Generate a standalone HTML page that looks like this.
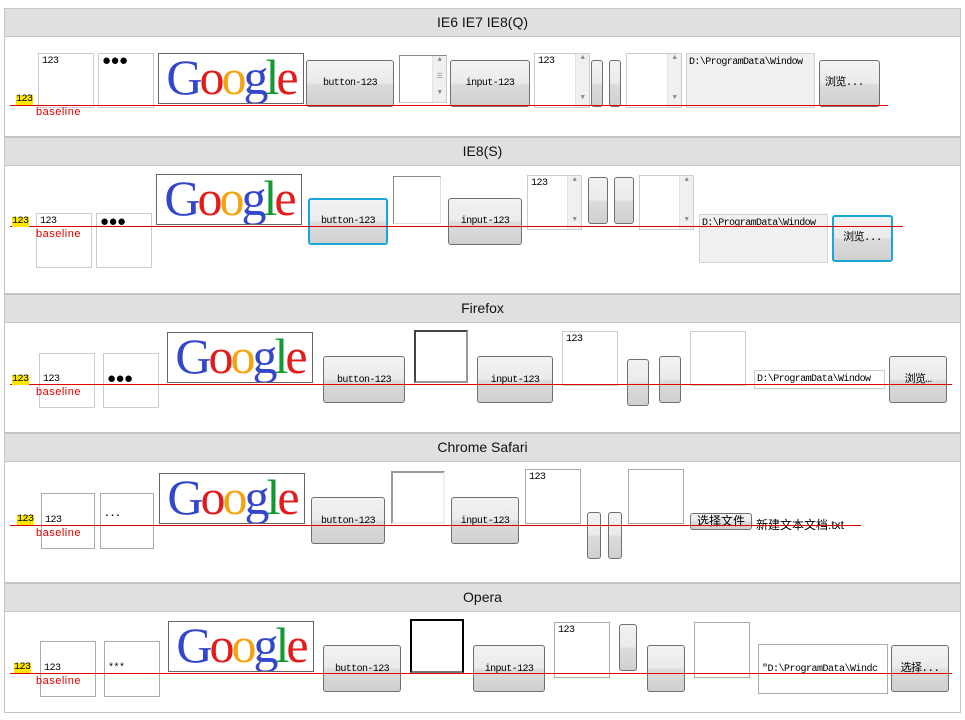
<!DOCTYPE html>
<html><head><meta charset="utf-8"><style>
*{box-sizing:border-box;margin:0;padding:0}
body{width:965px;height:720px;background:#fff;position:relative;overflow:hidden;font-family:"Liberation Sans","Noto Sans CJK SC",sans-serif}
div{position:absolute}
.hd{left:4px;width:957px;height:29px;background:#e0e0e0;border:1px solid #c4c4c4;font-size:14px;line-height:27px;text-align:center;color:#111}
.sec{left:4px;width:957px;border:1px solid #c4c4c4;border-top:none}
.ln{height:1px;background:#e00000;z-index:4}
.y{background:#ffe600;font-size:10px;line-height:10px;height:10px;font-family:"Liberation Mono",monospace;color:#000;z-index:5;letter-spacing:-0.5px}
.bl{font-size:11px;color:#e00000;font-family:"Liberation Sans",sans-serif;letter-spacing:0.5px;z-index:5}
.bx{border:1px solid #c8ccd4;background:#fff;font-size:10px;font-family:"Liberation Mono",monospace;padding:2px 3px;color:#000;letter-spacing:-0.5px}
.bt{border:1px solid #707070;border-radius:3px;background:linear-gradient(#f2f2f2 0,#ebebeb 48%,#dcdcdc 52%,#d0d0d0 100%);font-size:10px;font-family:"Liberation Mono",monospace;text-align:center;color:#000;white-space:nowrap;overflow:hidden;letter-spacing:-0.6px}
.bb{border:2px solid #19a6d8}
.g{border:1px solid #666;background:#fff;font-family:"Liberation Serif",serif;font-size:50px;line-height:46px;text-align:center;overflow:hidden;letter-spacing:-3px;white-space:nowrap}
.g b{font-weight:normal}
.sb{right:0;top:0;bottom:0;width:14px;background:#f0f0f0;border-left:1px solid #e4e4e4;font-size:7px;color:#888;text-align:center}
.ft{background:#f0f0f0;border:1px solid #cfd4da;font-size:10px;font-family:"Liberation Mono",monospace;padding:3px 2px;white-space:nowrap;overflow:hidden;letter-spacing:-0.6px}
</style></head><body>

<!-- Section 1 -->
<div class="hd" style="top:8px">IE6 IE7 IE8(Q)</div>
<div class="sec" style="top:37px;height:100px"></div>
<div class="y" style="left:16px;top:95px">123</div>
<div class="bl" style="left:36px;top:106px">baseline</div>
<div class="bx" style="left:38px;top:53px;width:56px;height:55px">123</div>
<div class="bx" style="left:98px;top:53px;width:56px;height:55px;font-size:15px;line-height:14px;padding-top:1px">●●●</div>
<div class="g" style="left:158px;top:53px;width:146px;height:51px"><b style="color:#3446cc">G</b><b style="color:#e31b1b">o</b><b style="color:#f5a40f">o</b><b style="color:#3446cc">g</b><b style="color:#129a32">l</b><b style="color:#e31b1b">e</b></div>
<div class="bt" style="left:306px;top:60px;width:88px;height:47px;line-height:45px">button-123</div>
<div class="bx" style="left:399px;top:55px;width:48px;height:48px;border-color:#888 #ccc #ccc #888"><div class="sb">▲<br><br>☰<br><br>▼</div></div>
<div class="bt" style="left:450px;top:60px;width:80px;height:47px;line-height:45px">input-123</div>
<div class="bx" style="left:534px;top:53px;width:56px;height:55px">123<div class="sb">▲<br><br><br><br><br>▼</div></div>
<div class="bt" style="left:591px;top:60px;width:12px;height:47px"></div>
<div class="bt" style="left:609px;top:60px;width:12px;height:47px"></div>
<div class="bx" style="left:626px;top:53px;width:56px;height:55px"><div class="sb">▲<br><br><br><br><br>▼</div></div>
<div class="ft" style="left:686px;top:53px;width:129px;height:55px">D:\ProgramData\Window</div>
<div class="bt" style="left:819px;top:60px;width:61px;height:47px;line-height:45px;text-align:left;padding-left:5px;font-family:'Liberation Mono','Noto Sans CJK SC',monospace;font-size:11px">浏览...</div>
<div class="ln" style="left:10px;top:105px;width:878px"></div>

<!-- Section 2 -->
<div class="hd" style="top:137px">IE8(S)</div>
<div class="sec" style="top:166px;height:128px"></div>
<div class="y" style="left:12px;top:217px">123</div>
<div class="bl" style="left:36px;top:228px">baseline</div>
<div class="bx" style="left:36px;top:213px;width:56px;height:55px">123</div>
<div class="bx" style="left:96px;top:213px;width:56px;height:55px;font-size:15px;line-height:14px;padding-top:2px">●●●</div>
<div class="g" style="left:156px;top:174px;width:146px;height:51px"><b style="color:#3446cc">G</b><b style="color:#e31b1b">o</b><b style="color:#f5a40f">o</b><b style="color:#3446cc">g</b><b style="color:#129a32">l</b><b style="color:#e31b1b">e</b></div>
<div class="bt bb" style="left:308px;top:198px;width:80px;height:47px;line-height:43px">button-123</div>
<div class="bx" style="left:393px;top:176px;width:48px;height:48px;border-color:#888 #ddd #ddd #888"></div>
<div class="bt" style="left:448px;top:198px;width:74px;height:47px;line-height:45px">input-123</div>
<div class="bx" style="left:527px;top:175px;width:55px;height:55px">123<div class="sb">▲<br><br><br><br><br>▼</div></div>
<div class="bt" style="left:588px;top:177px;width:20px;height:47px"></div>
<div class="bt" style="left:614px;top:177px;width:20px;height:47px"></div>
<div class="bx" style="left:639px;top:175px;width:55px;height:55px"><div class="sb">▲<br><br><br><br><br>▼</div></div>
<div class="ft" style="left:699px;top:214px;width:129px;height:49px">D:\ProgramData\Window</div>
<div class="bt bb" style="left:832px;top:215px;width:61px;height:47px;line-height:43px;font-family:'Liberation Mono','Noto Sans CJK SC',monospace;font-size:11px">浏览...</div>
<div class="ln" style="left:10px;top:226px;width:893px"></div>

<!-- Section 3 -->
<div class="hd" style="top:294px">Firefox</div>
<div class="sec" style="top:323px;height:110px"></div>
<div class="y" style="left:12px;top:375px">123</div>
<div class="bl" style="left:36px;top:386px">baseline</div>
<div class="bx" style="left:39px;top:353px;width:56px;height:55px;padding-top:20px">123</div>
<div class="bx" style="left:103px;top:353px;width:56px;height:55px;font-size:15px;line-height:14px;padding-top:19px">●●●</div>
<div class="g" style="left:167px;top:332px;width:146px;height:51px"><b style="color:#3446cc">G</b><b style="color:#e31b1b">o</b><b style="color:#f5a40f">o</b><b style="color:#3446cc">g</b><b style="color:#129a32">l</b><b style="color:#e31b1b">e</b></div>
<div class="bt" style="left:323px;top:356px;width:82px;height:47px;line-height:47px">button-123</div>
<div class="bx" style="left:414px;top:330px;width:54px;height:53px;border:2px solid;border-color:#444 #999 #999 #444"></div>
<div class="bt" style="left:477px;top:356px;width:76px;height:47px;line-height:47px">input-123</div>
<div class="bx" style="left:562px;top:331px;width:56px;height:55px">123</div>
<div class="bt" style="left:627px;top:359px;width:22px;height:47px"></div>
<div class="bt" style="left:659px;top:356px;width:22px;height:47px"></div>
<div class="bx" style="left:690px;top:331px;width:56px;height:55px"></div>
<div class="bx" style="left:754px;top:370px;width:131px;height:19px;padding:3px 2px;white-space:nowrap;overflow:hidden;letter-spacing:-0.6px">D:\ProgramData\Window</div>
<div class="bt" style="left:889px;top:356px;width:58px;height:47px;line-height:47px;font-family:'Liberation Mono','Noto Sans CJK SC',monospace;font-size:11px">浏览…</div>
<div class="ln" style="left:10px;top:384px;width:942px"></div>

<!-- Section 4 -->
<div class="hd" style="top:433px">Chrome Safari</div>
<div class="sec" style="top:462px;height:121px"></div>
<div class="y" style="left:17px;top:515px">123</div>
<div class="bl" style="left:36px;top:527px">baseline</div>
<div class="bx" style="left:41px;top:493px;width:54px;height:56px;border-color:#aaa;padding-top:21px">123</div>
<div class="bx" style="left:100px;top:493px;width:54px;height:56px;border-color:#aaa;padding-top:17px;font-weight:bold">···</div>
<div class="g" style="left:159px;top:473px;width:146px;height:51px"><b style="color:#3446cc">G</b><b style="color:#e31b1b">o</b><b style="color:#f5a40f">o</b><b style="color:#3446cc">g</b><b style="color:#129a32">l</b><b style="color:#e31b1b">e</b></div>
<div class="bt" style="left:311px;top:497px;width:74px;height:47px;line-height:47px">button-123</div>
<div class="bx" style="left:391px;top:471px;width:54px;height:53px;border:2px solid;border-color:#999 #eee #eee #999"></div>
<div class="bt" style="left:451px;top:497px;width:68px;height:47px;line-height:47px">input-123</div>
<div class="bx" style="left:525px;top:469px;width:56px;height:55px;border-color:#aaa">123</div>
<div class="bt" style="left:587px;top:512px;width:14px;height:47px"></div>
<div class="bt" style="left:608px;top:512px;width:14px;height:47px"></div>
<div class="bx" style="left:628px;top:469px;width:56px;height:55px;border-color:#aaa"></div>
<div class="bt" style="left:690px;top:513px;width:62px;height:17px;line-height:14px;font-size:12px;letter-spacing:0;font-family:'Liberation Sans','Noto Sans CJK SC',sans-serif">选择文件</div>
<div style="left:756px;top:516px;font-size:12px;font-family:'Liberation Sans','Noto Sans CJK SC',sans-serif;white-space:nowrap">新建文本文档.txt</div>
<div class="ln" style="left:10px;top:525px;width:851px"></div>

<!-- Section 5 -->
<div class="hd" style="top:583px">Opera</div>
<div class="sec" style="top:612px;height:101px"></div>
<div class="y" style="left:14px;top:663px">123</div>
<div class="bl" style="left:36px;top:675px">baseline</div>
<div class="bx" style="left:40px;top:641px;width:56px;height:56px;border-color:#aaa;padding-top:21px">123</div>
<div class="bx" style="left:104px;top:641px;width:56px;height:56px;border-color:#aaa;padding-top:21px">***</div>
<div class="g" style="left:168px;top:621px;width:146px;height:51px"><b style="color:#3446cc">G</b><b style="color:#e31b1b">o</b><b style="color:#f5a40f">o</b><b style="color:#3446cc">g</b><b style="color:#129a32">l</b><b style="color:#e31b1b">e</b></div>
<div class="bt" style="left:323px;top:645px;width:78px;height:47px;line-height:47px">button-123</div>
<div class="bx" style="left:410px;top:619px;width:54px;height:54px;border:2px solid;border-color:#000 #000 #777 #000"></div>
<div class="bt" style="left:473px;top:645px;width:72px;height:47px;line-height:47px">input-123</div>
<div class="bx" style="left:554px;top:622px;width:56px;height:56px;border-color:#aaa">123</div>
<div class="bt" style="left:619px;top:624px;width:18px;height:47px"></div>
<div class="bt" style="left:647px;top:645px;width:38px;height:47px"></div>
<div class="bx" style="left:694px;top:622px;width:56px;height:56px;border-color:#aaa"></div>
<div class="bx" style="left:758px;top:644px;width:130px;height:50px;border-color:#aaa;padding-top:19px;white-space:nowrap;overflow:hidden">"D:\ProgramData\Windc</div>
<div class="bt" style="left:891px;top:645px;width:58px;height:47px;line-height:47px;font-family:'Liberation Mono','Noto Sans CJK SC',monospace;font-size:11px">选择...</div>
<div class="ln" style="left:10px;top:673px;width:942px"></div>

</body></html>
